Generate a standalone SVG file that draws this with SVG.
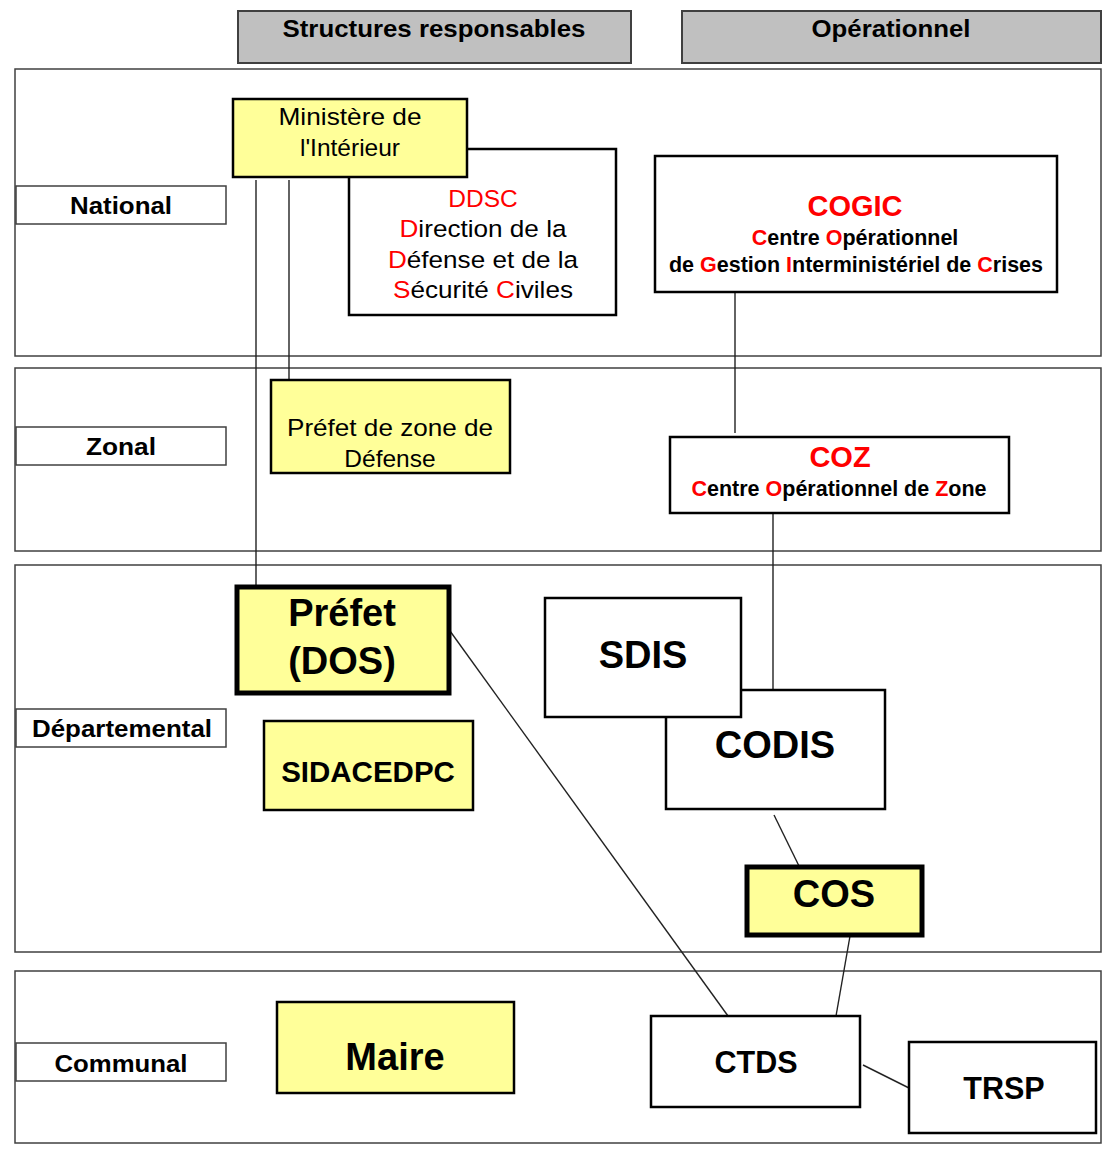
<svg xmlns="http://www.w3.org/2000/svg" width="1105" height="1152" viewBox="0 0 1105 1152">
<style>
text{font-family:"Liberation Sans",Arial,sans-serif;fill:#000;text-anchor:middle}
.b{font-weight:bold}
.r{fill:#ff0000}
.band{fill:#fff;stroke:#404040;stroke-width:1.5}
.lab{fill:#fff;stroke:#404040;stroke-width:1.5}
.hdr{fill:#c0c0c0;stroke:#404040;stroke-width:2}
.yel{fill:#ffff99;stroke:#000;stroke-width:2.5}
.yelT{fill:#ffff99;stroke:#000;stroke-width:5}
.wht{fill:#fff;stroke:#000;stroke-width:2.5}
.con line{stroke:#222;stroke-width:1.4}
</style>
<rect width="1105" height="1152" fill="#fff"/>
<g id="headers">
<rect class="hdr" x="238" y="11" width="393" height="52"/>
<text class="b" x="434" y="37" font-size="24.5" textLength="303" lengthAdjust="spacingAndGlyphs">Structures responsables</text>
<rect class="hdr" x="682" y="11" width="419" height="52"/>
<text class="b" x="891" y="37" font-size="24.5" textLength="159" lengthAdjust="spacingAndGlyphs">Opérationnel</text>
</g>
<g id="bands">
<rect class="band" x="15" y="69" width="1086" height="287"/>
<rect class="band" x="15" y="368" width="1086" height="183"/>
<rect class="band" x="15" y="565" width="1086" height="387"/>
<rect class="band" x="15" y="971" width="1086" height="172"/>
</g>
<g id="level-national"><rect class="lab" x="16" y="186" width="210" height="38"/><text class="b" x="121" y="214" font-size="24.5" textLength="102" lengthAdjust="spacingAndGlyphs">National</text></g>
<g id="level-zonal"><rect class="lab" x="16" y="427" width="210" height="38"/><text class="b" x="121" y="455" font-size="24.5" textLength="70" lengthAdjust="spacingAndGlyphs">Zonal</text></g>
<g id="level-departemental"><rect class="lab" x="16" y="709" width="210" height="38"/><text class="b" x="122" y="737" font-size="24.5" textLength="180" lengthAdjust="spacingAndGlyphs">Départemental</text></g>
<g id="level-communal"><rect class="lab" x="16" y="1043" width="210" height="38"/><text class="b" x="121" y="1072" font-size="24.5" textLength="133" lengthAdjust="spacingAndGlyphs">Communal</text></g>
<g id="connectors" class="con">
<line x1="256" y1="180" x2="256" y2="587"/>
<line x1="289" y1="180" x2="289" y2="380"/>
<line x1="735" y1="292" x2="735" y2="433"/>
<line x1="773" y1="513" x2="773" y2="690"/>
<line x1="450" y1="631" x2="728" y2="1016"/>
<line x1="774" y1="815" x2="799" y2="866"/>
<line x1="850" y1="936" x2="836" y2="1016"/>
<line x1="863" y1="1065" x2="909" y2="1088"/>
</g>
<g id="ddsc">
<rect class="wht" x="349" y="149" width="267" height="166"/>
<text x="483" y="207" font-size="24.5"><tspan class="r">DDSC</tspan></text>
<text x="483" y="237" font-size="24.5" textLength="167" lengthAdjust="spacingAndGlyphs"><tspan class="r">D</tspan>irection de la</text>
<text x="483" y="268" font-size="24.5" textLength="190" lengthAdjust="spacingAndGlyphs"><tspan class="r">D</tspan>éfense et de la</text>
<text x="483" y="298" font-size="24.5" textLength="180" lengthAdjust="spacingAndGlyphs"><tspan class="r">S</tspan>écurité <tspan class="r">C</tspan>iviles</text>
</g>
<g id="ministere">
<rect class="yel" x="233" y="99" width="234" height="78"/>
<text x="350" y="125" font-size="24.5" textLength="143" lengthAdjust="spacingAndGlyphs">Ministère de</text>
<text x="350" y="156" font-size="24.5">l'Intérieur</text>
</g>
<g id="cogic">
<rect class="wht" x="655" y="156" width="402" height="136"/>
<text class="b r" x="855" y="216" font-size="29">COGIC</text>
<text class="b" x="855" y="245" font-size="21.5"><tspan class="r">C</tspan>entre <tspan class="r">O</tspan>pérationnel</text>
<text class="b" x="856" y="272" font-size="21.5">de <tspan class="r">G</tspan>estion <tspan class="r">I</tspan>nterministériel de <tspan class="r">C</tspan>rises</text>
</g>
<g id="prefet-zone">
<rect class="yel" x="271" y="380" width="239" height="93"/>
<text x="390" y="436" font-size="24.5" textLength="206" lengthAdjust="spacingAndGlyphs">Préfet de zone de</text>
<text x="390" y="467" font-size="24.5">Défense</text>
</g>
<g id="coz">
<rect class="wht" x="670" y="437" width="339" height="76"/>
<text class="b r" x="840" y="467" font-size="29">COZ</text>
<text class="b" x="839" y="496" font-size="21.5"><tspan class="r">C</tspan>entre <tspan class="r">O</tspan>pérationnel de <tspan class="r">Z</tspan>one</text>
</g>
<g id="prefet-dos">
<rect class="yelT" x="237" y="587" width="212" height="106"/>
<text class="b" x="342" y="626" font-size="38">Préfet</text>
<text class="b" x="342" y="674" font-size="38">(DOS)</text>
</g>
<g id="codis">
<rect class="wht" x="666" y="690" width="219" height="119"/>
<text class="b" x="775" y="758" font-size="38">CODIS</text>
</g>
<g id="sdis">
<rect class="wht" x="545" y="598" width="196" height="119"/>
<text class="b" x="643" y="668" font-size="38">SDIS</text>
</g>
<g id="sidacedpc">
<rect class="yel" x="264" y="721" width="209" height="89"/>
<text class="b" x="368" y="782" font-size="29.5">SIDACEDPC</text>
</g>
<g id="cos">
<rect class="yelT" x="747" y="867" width="175" height="68"/>
<text class="b" x="834" y="907" font-size="38">COS</text>
</g>
<g id="maire">
<rect class="yel" x="277" y="1002" width="237" height="91"/>
<text class="b" x="395" y="1070" font-size="38">Maire</text>
</g>
<g id="ctds">
<rect class="wht" x="651" y="1016" width="209" height="91"/>
<text class="b" x="756" y="1073" font-size="30.5">CTDS</text>
</g>
<g id="trsp">
<rect class="wht" x="909" y="1042" width="187" height="91"/>
<text class="b" x="1004" y="1099" font-size="30.5">TRSP</text>
</g>
</svg>
